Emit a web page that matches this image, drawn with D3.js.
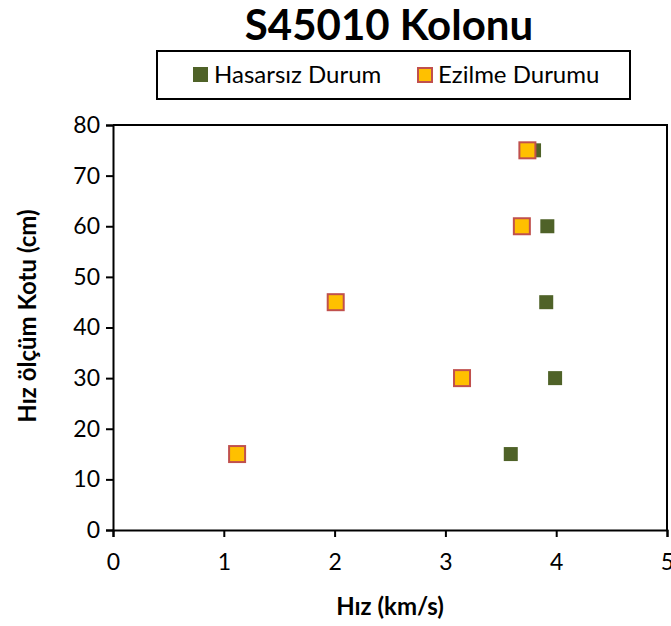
<!DOCTYPE html>
<html>
<head>
<meta charset="utf-8">
<script src="https://cdn.jsdelivr.net/npm/d3@7"></script>
<style>
  body { margin: 0; background: #fff; }
  svg { display: block; font-family: Lato, "Open Sans", sans-serif; }
</style>
</head>
<body>
<div id="chart"></div>
<script>
// Veriler
var kotlar = [15, 30, 45, 60, 75];
var hasarsizHiz = [3.59, 3.99, 3.91, 3.92, 3.80];
var ezilmeHiz = [1.12, 3.15, 2.01, 3.69, 3.74];
var xTicks = [0, 1, 2, 3, 4, 5];
var yTicks = [0, 10, 20, 30, 40, 50, 60, 70, 80];
var seriler = ["Hasarsız Durum", "Ezilme Durumu"];

var svgWidth = 671;
var svgHeight = 626;
var margin = { top: 125, right: 4, bottom: 96, left: 113 };
var width = svgWidth - margin.left - margin.right;
var height = svgHeight - margin.top - margin.bottom;

var svg = d3.select("#chart")
    .append("svg")
    .attr("width", svgWidth)
    .attr("height", svgHeight);

var g = svg.append("g")
    .attr("transform", "translate(" + margin.left + "," + margin.top + ")");

var x = d3.scaleLinear().domain([0, 5]).range([0, width]);
var y = d3.scaleLinear().domain([0, 80]).range([height, 0]);

// Çerçeve (üst ve sağ kenar)
g.append("path")
    .attr("d", "M0," + y(80) + "H" + x(5) + "V" + y(0))
    .attr("fill", "none")
    .attr("stroke", "#000")
    .attr("stroke-width", 2);

// X ekseni
var xAxis = g.append("g")
    .attr("transform", "translate(0," + height + ")")
    .call(d3.axisBottom(x).tickValues(xTicks).tickSize(7).tickPadding(17).tickFormat(d3.format("d")));

// Y ekseni
var yAxis = g.append("g")
    .call(d3.axisLeft(y).tickValues(yTicks).tickSize(7).tickPadding(6).tickFormat(d3.format("d")));

[xAxis, yAxis].forEach(function (a) {
    a.select(".domain").attr("stroke", "#000").attr("stroke-width", 2);
    a.selectAll(".tick line").attr("stroke", "#000").attr("stroke-width", 2);
    a.selectAll(".tick text")
        .attr("fill", "#000")
        .style("font-size", "23px")
        .style("font-family", "Lato, sans-serif");
});

// Noktalar - Hasarsız
g.selectAll(".hasarsiz")
    .data(kotlar)
    .enter()
    .append("rect")
    .attr("class", "hasarsiz")
    .attr("x", function (d, i) { return x(hasarsizHiz[i]) - 7; })
    .attr("y", function (d) { return y(d) - 7; })
    .attr("width", 14)
    .attr("height", 14)
    .attr("fill", "#4F6228");

// Noktalar - Ezilme
g.selectAll(".ezilme")
    .data(kotlar)
    .enter()
    .append("rect")
    .attr("class", "ezilme")
    .attr("x", function (d, i) { return x(ezilmeHiz[i]) - 8; })
    .attr("y", function (d) { return y(d) - 8; })
    .attr("width", 16)
    .attr("height", 16)
    .attr("fill", "#FFC000")
    .attr("stroke", "#C0504D")
    .attr("stroke-width", 2);

// Başlık
svg.append("text")
    .attr("x", 389)
    .attr("y", 40)
    .attr("text-anchor", "middle")
    .style("font-size", "42px")
    .style("font-weight", "bold")
    .text("S45010 Kolonu");

// Eksen başlıkları
svg.append("text")
    .attr("x", margin.left + width / 2)
    .attr("y", 615)
    .attr("text-anchor", "middle")
    .style("font-size", "24px")
    .style("font-weight", "bold")
    .text("Hız (km/s)");

svg.append("text")
    .attr("transform", "translate(36,316) rotate(-90)")
    .attr("text-anchor", "middle")
    .style("font-size", "24px")
    .style("font-weight", "bold")
    .text("Hız ölçüm Kotu (cm)");

// Lejant
var legend = svg.append("g");
legend.append("rect")
    .attr("x", 157)
    .attr("y", 51)
    .attr("width", 473)
    .attr("height", 48)
    .attr("fill", "#fff")
    .attr("stroke", "#000")
    .attr("stroke-width", 2);

var legendX = [193, 417];
seriler.forEach(function (s, i) {
    var lx = legendX[i];
    if (i === 0) {
        legend.append("rect")
            .attr("x", lx).attr("y", 67)
            .attr("width", 15).attr("height", 15)
            .attr("fill", "#4F6228");
    } else {
        legend.append("rect")
            .attr("x", lx + 1).attr("y", 68)
            .attr("width", 14).attr("height", 14)
            .attr("fill", "#FFC000")
            .attr("stroke", "#C0504D")
            .attr("stroke-width", 2);
    }
    legend.append("text")
        .attr("x", lx + 21)
        .attr("y", 83)
        .style("font-size", "24px")
        .text(s);
});
</script>
</body>
</html>
